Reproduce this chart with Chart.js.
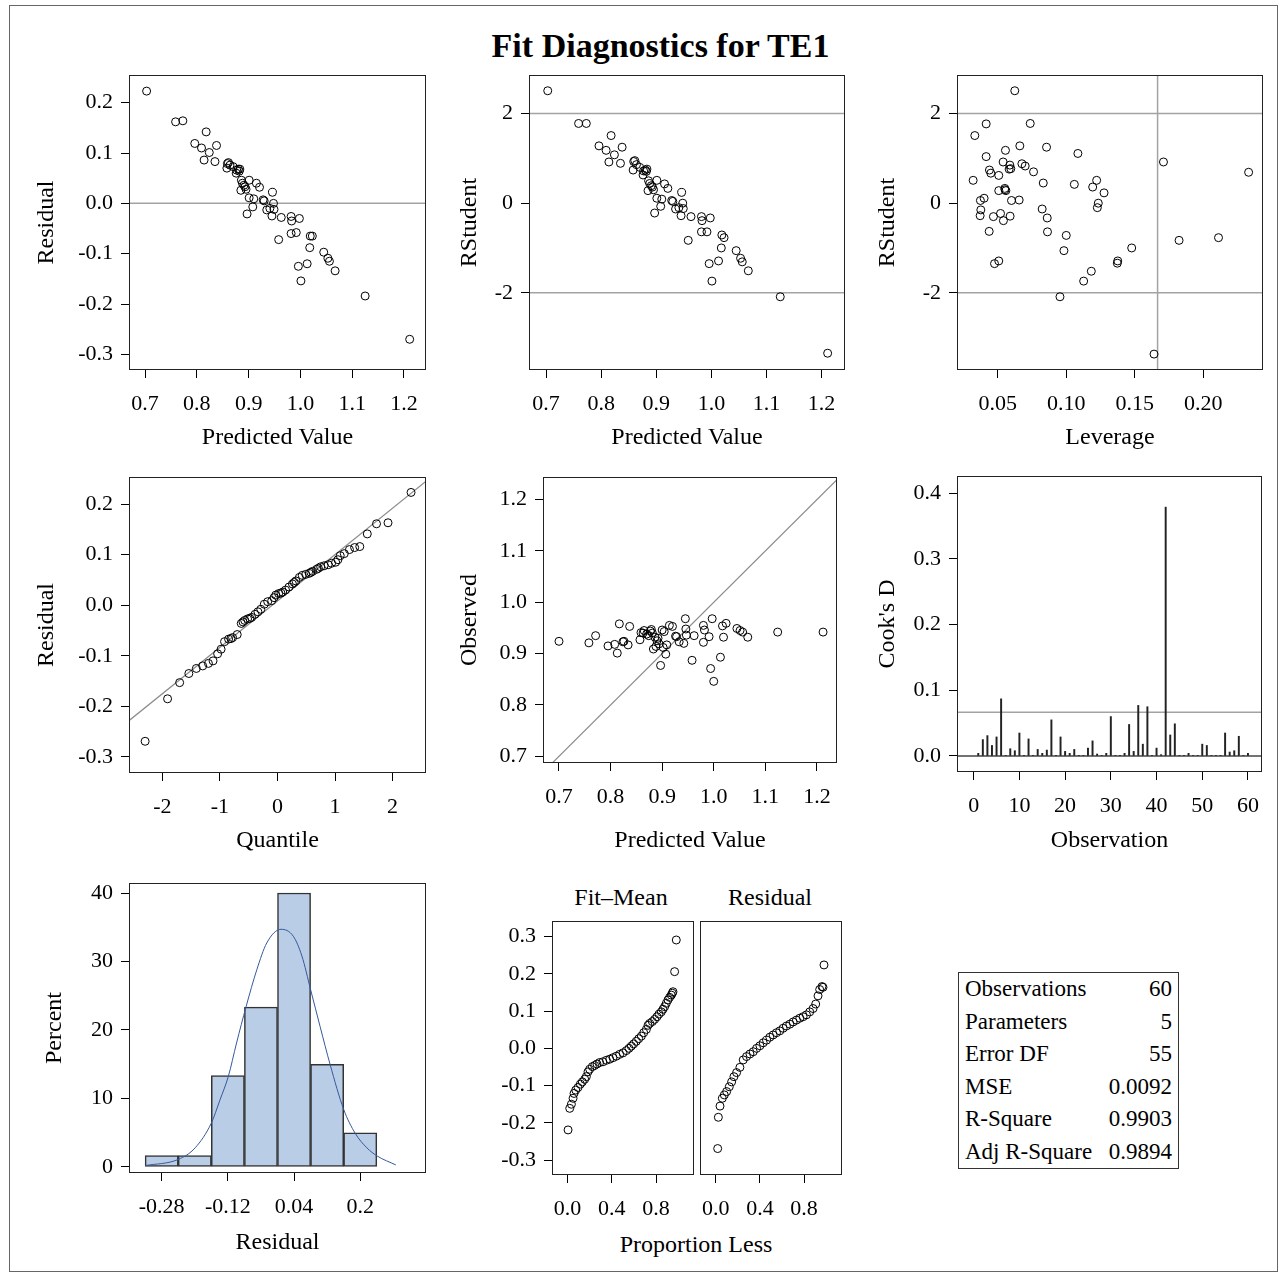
<!DOCTYPE html>
<html>
<head>
<meta charset="utf-8">
<script src="https://cdn.jsdelivr.net/npm/chart.js@4.4.1/dist/chart.umd.min.js"></script>
<style>
  body { margin: 0; background: #fff; font-family: 'Liberation Serif', 'Times New Roman', serif; color: #000; }
  #page { position: relative; width: 1285px; height: 1278px; overflow: hidden; }
  #outer { position: absolute; left: 9px; top: 5px; width: 1267px; height: 1265px; border: 1px solid #666; }
  #title { position: absolute; left: 18px; width: 1285px; top: 27px; text-align: center; font-weight: bold; font-size: 34px; line-height: 38px; }
  canvas { position: absolute; }
  .lbl { position: absolute; font-size: 24px; line-height: 28px; transform: translate(-50%, -50%); white-space: nowrap; }
  #stats { position: absolute; left: 958px; top: 972px; width: 221px; border: 1px solid #333; border-collapse: collapse; font-size: 23px; }
  #stats td { height: 32.5px; padding: 0 6px; line-height: 24px; white-space: nowrap; }
  #stats td.v { text-align: right; }
</style>
</head>
<body>
<div id="page">
  <div id="outer"></div>
  <div id="title">Fit Diagnostics for TE1</div>
  <div class="lbl" style="left:621px; top:897px;">Fit–Mean</div>
  <div class="lbl" style="left:770px; top:897px;">Residual</div>
  <div class="lbl" style="left:696px; top:1244px;">Proportion Less</div>
  <table id="stats"></table>
</div>
<script>
// ---- données ----
// prédit / résidu / RStudent (mêmes observations)
const predicted = [0.703, 0.759, 0.773, 0.818, 0.796, 0.809, 0.824, 0.838, 0.814, 0.835,
  0.859, 0.864, 0.858, 0.870, 0.880, 0.876, 0.882, 0.886, 0.901, 0.915,
  0.921, 0.891, 0.885, 0.895, 0.946, 0.901, 0.910, 0.928, 0.948, 0.908,
  0.897, 0.935, 0.949, 0.945, 0.963, 0.982, 0.983, 0.998, 0.958, 0.982,
  0.992, 1.019, 1.023, 1.018, 1.045, 1.053, 1.056, 1.067, 0.996, 1.013,
  1.001, 1.125, 1.211, 0.861, 0.877, 0.883, 0.888, 0.893, 0.941, 0.930];
const residual = [0.223, 0.162, 0.164, 0.142, 0.119, 0.110, 0.101, 0.115, 0.086, 0.083,
  0.079, 0.076, 0.070, 0.073, 0.068, 0.060, 0.064, 0.046, 0.046, 0.040,
  0.032, 0.036, 0.026, 0.028, 0.022, 0.011, 0.009, 0.007, 0.000, -0.007,
  -0.021, -0.013, -0.012, -0.025, -0.028, -0.026, -0.035, -0.030, -0.072, -0.060,
  -0.058, -0.065, -0.065, -0.088, -0.097, -0.109, -0.115, -0.134, -0.125, -0.120,
  -0.154, -0.184, -0.270, 0.081, 0.066, 0.068, 0.040, 0.033, -0.010, 0.005];
const rstudent = [2.51, 1.78, 1.78, 1.51, 1.28, 1.18, 1.08, 1.25, 0.92, 0.89,
  0.93, 0.86, 0.74, 0.80, 0.74, 0.63, 0.71, 0.50, 0.51, 0.43,
  0.33, 0.39, 0.28, 0.30, 0.24, 0.11, 0.09, 0.06, 0.00, -0.07,
  -0.22, -0.13, -0.12, -0.28, -0.30, -0.30, -0.39, -0.33, -0.83, -0.64,
  -0.64, -0.71, -0.77, -1.00, -1.06, -1.23, -1.31, -1.51, -1.35, -1.29,
  -1.74, -2.09, -3.35, 0.95, 0.72, 0.76, 0.44, 0.36, -0.10, 0.04];

// levier / RStudent
const leverage = [0.0624, 0.0332, 0.0415, 0.0737, 0.0661, 0.0856, 0.1085, 0.0415, 0.0556, 0.1710,
  0.0539, 0.0676, 0.0700, 0.0588, 0.0583, 0.0439, 0.0449, 0.0507, 0.0761, 0.2332,
  0.0320, 0.0832, 0.1059, 0.1222, 0.1193, 0.1276, 0.0551, 0.0507, 0.0559, 0.0656,
  0.0600, 0.0400, 0.0373, 0.1234, 0.1227, 0.0824, 0.0376, 0.0371, 0.0468, 0.0520,
  0.0541, 0.0590, 0.0861, 0.0437, 0.0863, 0.1000, 0.0983, 0.1478, 0.1824, 0.2112,
  0.0476, 0.0507, 0.1376, 0.1373, 0.1183, 0.1127, 0.0954, 0.1641, 0.0595, 0.0553];
const rstudentLev = [2.51, 1.51, 1.77, 1.78, 1.28, 1.25, 1.11, 1.04, 1.18, 0.92,
  0.92, 0.88, 0.83, 0.85, 0.76, 0.74, 0.67, 0.62, 0.70, 0.69,
  0.51, 0.45, 0.42, 0.51, 0.36, 0.23, 0.33, 0.28, 0.28, 0.07,
  0.06, 0.11, 0.06, 0.00, -0.10, -0.13, -0.15, -0.28, -0.30, -0.23,
  -0.39, -0.29, -0.33, -0.63, -0.64, -0.72, -1.06, -1.00, -0.83, -0.77,
  -1.35, -1.29, -1.29, -1.34, -1.52, -1.74, -2.09, -3.37, 0.77, 0.30];
const levCutoff = 0.1667;

// QQ
const qqQuantile = [-2.30, -1.91, -1.70, -1.54, -1.41, -1.30, -1.20, -1.12, -1.04, -0.98,
  -0.92, -0.85, -0.81, -0.78, -0.70, -0.63, -0.60, -0.57, -0.52, -0.48,
  -0.45, -0.39, -0.34, -0.29, -0.23, -0.17, -0.10, -0.06, -0.03, 0.02,
  0.06, 0.09, 0.14, 0.20, 0.26, 0.29, 0.32, 0.38, 0.43, 0.49,
  0.55, 0.58, 0.61, 0.68, 0.71, 0.75, 0.81, 0.88, 0.94, 1.01,
  1.05, 1.09, 1.16, 1.25, 1.34, 1.43, 1.56, 1.72, 1.92, 2.32];
const qqResidual = [-0.269, -0.185, -0.153, -0.135, -0.125, -0.120, -0.115, -0.110, -0.096, -0.087,
  -0.072, -0.067, -0.066, -0.064, -0.058, -0.036, -0.033, -0.030, -0.027, -0.026,
  -0.024, -0.018, -0.013, -0.008, 0.002, 0.007, 0.009, 0.015, 0.020, 0.023,
  0.024, 0.026, 0.030, 0.036, 0.042, 0.045, 0.048, 0.055, 0.059, 0.061,
  0.063, 0.065, 0.067, 0.071, 0.073, 0.076, 0.078, 0.080, 0.083, 0.085,
  0.090, 0.098, 0.102, 0.110, 0.114, 0.116, 0.141, 0.161, 0.163, 0.223];
const qqLineX = [-2.6, 2.6];
const qqLineY = [-0.230, 0.247];

// observé / prédit
const obsPredicted = [0.700, 0.758, 0.771, 0.795, 0.808, 0.813, 0.817, 0.824, 0.826, 0.834,
  0.837, 0.857, 0.859, 0.863, 0.865, 0.870, 0.874, 0.877, 0.879, 0.881,
  0.883, 0.886, 0.888, 0.890, 0.892, 0.894, 0.897, 0.900, 0.902, 0.904,
  0.907, 0.909, 0.914, 0.920, 0.926, 0.928, 0.933, 0.942, 0.945, 0.946,
  0.947, 0.958, 0.962, 0.980, 0.980, 0.982, 0.991, 0.994, 0.997, 1.000,
  1.013, 1.017, 1.019, 1.024, 1.045, 1.051, 1.056, 1.066, 1.124, 1.212];
const observed = [0.924, 0.921, 0.935, 0.915, 0.918, 0.901, 0.958, 0.923, 0.924, 0.917,
  0.953, 0.927, 0.941, 0.940, 0.945, 0.938, 0.935, 0.944, 0.947, 0.940,
  0.909, 0.932, 0.914, 0.925, 0.930, 0.919, 0.877, 0.946, 0.912, 0.943,
  0.899, 0.917, 0.955, 0.953, 0.934, 0.933, 0.923, 0.920, 0.968, 0.948,
  0.936, 0.887, 0.935, 0.955, 0.922, 0.946, 0.933, 0.871, 0.968, 0.846,
  0.893, 0.954, 0.932, 0.959, 0.949, 0.945, 0.942, 0.932, 0.942, 0.942];

// distance de Cook (observations 1..60)
const cooksD = [0.004, 0.025, 0.031, 0.016, 0.029, 0.087, 0.001, 0.011, 0.008, 0.035,
  0.001, 0.026, 0.001, 0.010, 0.004, 0.009, 0.055, 0.001, 0.029, 0.007,
  0.004, 0.010, 0.001, 0.001, 0.012, 0.023, 0.003, 0.001, 0.004, 0.060,
  0.001, 0.001, 0.004, 0.048, 0.007, 0.077, 0.018, 0.075, 0.001, 0.012,
  0.002, 0.379, 0.032, 0.049, 0.001, 0.001, 0.004, 0.001, 0.001, 0.018,
  0.016, 0.001, 0.001, 0.001, 0.035, 0.006, 0.008, 0.030, 0.001, 0.004];
const cookCutoff = 0.0667;

// histogramme des résidus + courbe normale
const histMid = [-0.28, -0.20, -0.12, -0.04, 0.04, 0.12, 0.20];
const histPercent = [1.67, 1.67, 13.33, 23.33, 40.0, 15.0, 5.0];
const normX = [-0.320, -0.240, -0.199, -0.160, -0.139, -0.119, -0.099, -0.076, -0.050, -0.026, 0.0085,
  0.038, 0.059, 0.080, 0.103, 0.127, 0.160, 0.188, 0.216, 0.241, 0.286];
const normPct = [0.2, 1.1, 2.8, 6.4, 9.8, 13.2, 18.1, 23.4, 28.8, 32.7, 34.7,
  33.7, 30.8, 25.9, 20.5, 15.0, 8.4, 4.9, 2.8, 1.6, 0.3];

// graphe "spread" : Fit-Mean et Residual
const fitMeanProp = [0.006, 0.021, 0.036, 0.051, 0.060, 0.075, 0.096, 0.117, 0.135, 0.156,
  0.171, 0.186, 0.201, 0.225, 0.246, 0.267, 0.291, 0.321, 0.352, 0.382,
  0.412, 0.442, 0.472, 0.502, 0.532, 0.556, 0.577, 0.598, 0.622, 0.644,
  0.668, 0.689, 0.713, 0.728, 0.743, 0.767, 0.788, 0.809, 0.827, 0.848,
  0.863, 0.878, 0.893, 0.908, 0.923, 0.938, 0.947, 0.953, 0.968, 0.983];
const fitMean = [-0.219, -0.161, -0.150, -0.134, -0.121, -0.112, -0.105, -0.096, -0.090, -0.083,
  -0.076, -0.063, -0.056, -0.049, -0.046, -0.042, -0.038, -0.036, -0.032, -0.029,
  -0.025, -0.021, -0.016, -0.012, -0.006, 0.000, 0.006, 0.012, 0.019, 0.026,
  0.033, 0.042, 0.051, 0.062, 0.067, 0.072, 0.078, 0.085, 0.092, 0.098,
  0.105, 0.112, 0.121, 0.130, 0.137, 0.143, 0.148, 0.152, 0.206, 0.291];
const residProp = [0.018, 0.024, 0.039, 0.060, 0.078, 0.099, 0.123, 0.144, 0.165, 0.189,
  0.219, 0.249, 0.279, 0.310, 0.340, 0.370, 0.400, 0.430, 0.460, 0.490,
  0.520, 0.550, 0.580, 0.610, 0.640, 0.671, 0.701, 0.731, 0.761, 0.791,
  0.821, 0.851, 0.881, 0.905, 0.926, 0.941, 0.962, 0.971, 0.980];
const residSorted = [-0.269, -0.185, -0.155, -0.134, -0.125, -0.116, -0.103, -0.090, -0.076, -0.065,
  -0.051, -0.031, -0.022, -0.015, -0.009, 0.000, 0.007, 0.015, 0.022, 0.030,
  0.036, 0.042, 0.047, 0.054, 0.060, 0.065, 0.071, 0.076, 0.081, 0.085,
  0.090, 0.098, 0.107, 0.119, 0.141, 0.158, 0.166, 0.164, 0.224];

// tableau des statistiques
const statLabels = ['Observations', 'Parameters', 'Error DF', 'MSE', 'R-Square', 'Adj R-Square'];
const statValues = ['60', '5', '55', '0.0092', '0.9903', '0.9894'];

// ---- mise en page ----
Chart.defaults.font.family = "'Liberation Serif', 'Times New Roman', serif";
Chart.defaults.color = '#000';

const AXW = 125, AXH = 100, PT = 8, PR = 8;
const REF = '#a3a3a3';

const pts = (xs, ys) => xs.map((x, i) => ({x: x, y: ys[i]}));
const fmt = (v, dec) => dec == null ? String(v) : v.toFixed(dec);

// cadre autour de la zone de tracé
const framePlugin = {
    id: 'frame',
    afterDraw(chart) {
        const a = chart.chartArea, c = chart.ctx;
        c.save();
        c.strokeStyle = '#222';
        c.lineWidth = 1;
        c.strokeRect(a.left + 0.5, a.top + 0.5, a.right - a.left - 1, a.bottom - a.top - 1);
        c.restore();
    }
};

function mkScale(isX, s, f) {
    const title = { display: !!s.title, text: s.title || '', font: { size: 24 }, color: '#000' };
    if (s.title) {
        title.padding = isX ? { bottom: f.b + AXH - s.titleAt - 14.4 } : { top: s.titleAt - (f.l - AXW) - 14.4 };
    }
    return {
        type: 'linear',
        position: isX ? 'bottom' : 'left',
        min: s.min, max: s.max, offset: false,
        grid: { drawOnChartArea: false, drawTicks: !s.hide, tickLength: 8, color: '#000', lineWidth: 1, offset: false },
        border: { display: false },
        ticks: {
            display: !s.hide, font: { size: 22 }, color: '#000', padding: isX ? 13 : 8,
            maxRotation: 0, autoSkip: false,
            callback: v => fmt(v, s.dec)
        },
        title: title,
        afterBuildTicks: sc => { sc.ticks = (s.ticks || []).map(v => ({ value: v })); },
        afterFit: sc => {
            if (isX) sc.height = AXH; else sc.width = AXW;
            sc.paddingTop = 0; sc.paddingBottom = 0; sc.paddingLeft = 0; sc.paddingRight = 0;
        }
    };
}

function panel(f, type, datasets, x, y) {
    const cv = document.createElement('canvas');
    cv.width = f.r - f.l + AXW + PR;
    cv.height = f.b - f.t + PT + AXH;
    cv.style.left = (f.l - AXW) + 'px';
    cv.style.top = (f.t - PT) + 'px';
    document.getElementById('page').appendChild(cv);
    new Chart(cv, {
        type: type,
        data: { datasets: datasets },
        options: {
            responsive: false, animation: false, devicePixelRatio: 1,
            layout: { padding: { left: 0, top: PT, right: PR, bottom: 0 } },
            plugins: { legend: { display: false }, tooltip: { enabled: false } },
            scales: { x: mkScale(true, x, f), y: mkScale(false, y, f) }
        },
        plugins: [framePlugin]
    });
}

function points(data) {
    return { data: data, showLine: false, pointStyle: 'circle', pointRadius: 4, pointBorderWidth: 1,
        borderColor: '#000', backgroundColor: 'rgba(0,0,0,0)', order: 0 };
}
function refLine(data, color, width) {
    return { type: 'line', data: data, showLine: true, pointRadius: 0, borderColor: color || REF,
        borderWidth: width || 1.5, fill: false, tension: 0, order: 2 };
}

// 1. Residual vs Predicted
panel({ l: 129, t: 75, r: 426, b: 370 }, 'scatter', [
    points(pts(predicted, residual)),
    refLine([{ x: 0.6, y: 0 }, { x: 1.3, y: 0 }])
], { min: 0.669, max: 1.2425, ticks: [0.7, 0.8, 0.9, 1.0, 1.1, 1.2], dec: 1, title: 'Predicted Value', titleAt: 438 },
   { min: -0.331, max: 0.255, ticks: [-0.3, -0.2, -0.1, 0, 0.1, 0.2], dec: 1, title: 'Residual', titleAt: 47 });

// 2. RStudent vs Predicted
panel({ l: 529, t: 75, r: 845, b: 370 }, 'scatter', [
    points(pts(predicted, rstudent)),
    refLine([{ x: 0.6, y: 2 }, { x: 1.3, y: 2 }]),
    refLine([{ x: 0.6, y: -2 }, { x: 1.3, y: -2 }])
], { min: 0.669, max: 1.2425, ticks: [0.7, 0.8, 0.9, 1.0, 1.1, 1.2], dec: 1, title: 'Predicted Value', titleAt: 438 },
   { min: -3.725, max: 2.862, ticks: [-2, 0, 2], dec: 0, title: 'RStudent', titleAt: 470 });

// 3. RStudent vs Leverage
panel({ l: 957, t: 75, r: 1263, b: 370 }, 'scatter', [
    points(pts(leverage, rstudentLev)),
    refLine([{ x: 0, y: 2 }, { x: 0.3, y: 2 }]),
    refLine([{ x: 0, y: -2 }, { x: 0.3, y: -2 }]),
    refLine([{ x: levCutoff, y: -4 }, { x: levCutoff, y: 3 }])
], { min: 0.0202, max: 0.2437, ticks: [0.05, 0.10, 0.15, 0.20], dec: 2, title: 'Leverage', titleAt: 438 },
   { min: -3.725, max: 2.862, ticks: [-2, 0, 2], dec: 0, title: 'RStudent', titleAt: 888 });

// 4. QQ plot
panel({ l: 129, t: 477, r: 426, b: 773 }, 'scatter', [
    points(pts(qqQuantile, qqResidual)),
    refLine(pts(qqLineX, qqLineY), '#8c8c8c', 1.2)
], { min: -2.58, max: 2.58, ticks: [-2, -1, 0, 1, 2], dec: 0, title: 'Quantile', titleAt: 841 },
   { min: -0.3317, max: 0.2535, ticks: [-0.3, -0.2, -0.1, 0, 0.1, 0.2], dec: 1, title: 'Residual', titleAt: 47 });

// 5. Observed vs Predicted
panel({ l: 543, t: 477, r: 837, b: 763 }, 'scatter', [
    points(pts(obsPredicted, observed)),
    refLine([{ x: 0.6, y: 0.6 }, { x: 1.3, y: 1.3 }], '#8c8c8c', 1.2)
], { min: 0.669, max: 1.239, ticks: [0.7, 0.8, 0.9, 1.0, 1.1, 1.2], dec: 1, title: 'Predicted Value', titleAt: 841 },
   { min: 0.687, max: 1.244, ticks: [0.7, 0.8, 0.9, 1.0, 1.1, 1.2], dec: 1, title: 'Observed', titleAt: 470 });

// 6. Cook's D
panel({ l: 957, t: 476, r: 1262, b: 772 }, 'bar', [
    { type: 'bar', data: cooksD.map((d, i) => ({ x: i + 1, y: d })), backgroundColor: '#222',
      barThickness: 1.3, borderWidth: 0, order: 1 },
    refLine([{ x: -5, y: cookCutoff }, { x: 65, y: cookCutoff }]),
    refLine([{ x: -5, y: 0 }, { x: 65, y: 0 }], '#444', 1.3)
], { min: -3.65, max: 63.07, ticks: [0, 10, 20, 30, 40, 50, 60], dec: 0, title: 'Observation', titleAt: 841 },
   { min: -0.0244, max: 0.4264, ticks: [0, 0.1, 0.2, 0.3, 0.4], dec: 1, title: "Cook's D", titleAt: 888 });

// 7. Histogramme des résidus
panel({ l: 129, t: 883, r: 426, b: 1173 }, 'bar', [
    { type: 'bar', data: pts(histMid, histPercent), backgroundColor: '#b9cde6', borderColor: '#333',
      borderWidth: 1.5, borderSkipped: false, barPercentage: 1, categoryPercentage: 1, grouped: false, order: 1 },
    { type: 'line', data: pts(normX, normPct), borderColor: '#36599a', borderWidth: 1, pointRadius: 0,
      cubicInterpolationMode: 'monotone', fill: false, order: 0 }
], { min: -0.359, max: 0.359, ticks: [-0.28, -0.12, 0.04, 0.2], dec: null, title: 'Residual', titleAt: 1243 },
   { min: -0.88, max: 41.46, ticks: [0, 10, 20, 30, 40], dec: 0, title: 'Percent', titleAt: 55 });

// 8. Fit-Mean / Residual
panel({ l: 552, t: 921, r: 694, b: 1175 }, 'scatter', [
    points(pts(fitMeanProp, fitMean))
], { min: -0.139, max: 1.143, ticks: [0, 0.4, 0.8], dec: 1 },
   { min: -0.340, max: 0.342, ticks: [-0.3, -0.2, -0.1, 0, 0.1, 0.2, 0.3], dec: 1 });

panel({ l: 700, t: 921, r: 842, b: 1175 }, 'scatter', [
    points(pts(residProp, residSorted))
], { min: -0.142, max: 1.143, ticks: [0, 0.4, 0.8], dec: 1 },
   { min: -0.340, max: 0.342, hide: true });

// tableau
const tbl = document.getElementById('stats');
statLabels.forEach((lab, i) => {
    const tr = document.createElement('tr');
    tr.innerHTML = '<td>' + lab + '</td><td class="v">' + statValues[i] + '</td>';
    tbl.appendChild(tr);
});
</script>
</body>
</html>
